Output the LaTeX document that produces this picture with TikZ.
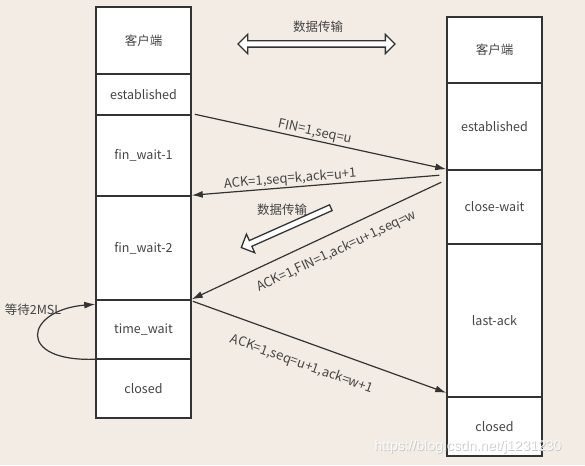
\documentclass[tikz,border=0pt]{standalone}
\usepackage{fontspec}
\setmainfont{Noto Sans CJK SC}
\newfontfamily\wmfont{Liberation Sans}
\usetikzlibrary{shapes.arrows,arrows.meta}
\definecolor{bg}{RGB}{242,236,228}
\definecolor{edge}{RGB}{51,51,51}
\definecolor{ink}{RGB}{68,68,68}
\tikzstyle{state} = [draw=edge,fill=white,line width=1.5pt,minimum width=95pt,inner sep=0pt,text=ink,font=\fontsize{12.5}{14}\selectfont]
\tikzstyle{msg} = [->,>={Latex[length=11pt,width=7pt]},line width=1.2pt,draw=edge]
\tikzstyle{msglabel} = [sloped,text=ink,font=\fontsize{13}{15}\selectfont,inner sep=1pt]
\tikzstyle{flow} = [draw=edge,fill=white,line width=1.3pt,inner sep=2.5pt]
\tikzstyle{watermark} = [font=\wmfont\fontsize{14}{16}\selectfont]

\begin{document}
\begin{tikzpicture}[x=1pt,y=-1pt]
		\fill[bg] (0,0) rectangle (585,465);
		\node[state,minimum height=67pt] (lc) at (143.5,40.5) {客户端};
		\node[state,minimum height=41pt] (le) at (143.5,94.5) {established};
		\node[state,minimum height=81pt] (lf1) at (143.5,155.5) {fin\_wait-1};
		\node[state,minimum height=104pt] (lf2) at (143.5,248) {fin\_wait-2};
		\node[state,minimum height=59pt] (lt) at (143.5,329.5) {time\_wait};
		\node[state,minimum height=59pt] (lcl) at (143.5,388.5) {closed};
		\node[state,minimum height=66pt] (rc) at (494.5,50) {客户端};
		\node[state,minimum height=87pt] (re) at (494.5,126.5) {established};
		\node[state,minimum height=74pt] (rcw) at (494.5,207) {close-wait};
		\node[state,minimum height=153pt] (rla) at (494.5,320.5) {last-ack};
		\node[state,minimum height=59pt] (rcl) at (494.5,426.5) {closed};
		\node[flow,double arrow,double arrow head extend=6.5pt,minimum height=157pt] (d1) at (316.5,44) {};
		\node[text=ink,font=\fontsize{12.5}{14}\selectfont] (t1) at (318,27) {数据传输};
		\node[flow,single arrow,single arrow head extend=7pt,minimum height=98pt,rotate=204] (d2) at (287.5,227) {};
		\node[text=ink,font=\fontsize{12.5}{14}\selectfont] (t2) at (282,210) {数据传输};
		\draw[msg] ([xshift=3pt]lf1.north east) -- node[msglabel,above,pos=0.47] (m1) {FIN=1,seq=u} (rcw.north west);
		\draw[msg] ([shift={(-7,6)}]rcw.north west) -- node[msglabel,above,pos=0.6] (m2) {ACK=1,seq=k,ack=u+1} (lf2.north east);
		\draw[msg] ([shift={(-5,13)}]rcw.north west) -- node[msglabel,below=10pt,pos=0.45] (m3) {ACK=1,FIN=1,ack=u+1,seq=w} (lt.north east);
		\draw[msg] ([shift={(1,2)}]lt.north east) -- node[msglabel,below=14pt,pos=0.46] (m4) {ACK=1,seq=u+1,ack=w+1} ([yshift=5pt]rla.south west);
		\draw[msg] ([yshift=-1pt]lcl.north west) .. controls (15,362) and (25,310) .. ([yshift=-5pt]lt.north west);
		\node[text=ink,font=\fontsize{12.5}{14}\selectfont] (w) at (33,310) {等待2MSL};
		\node[watermark,text=black!22] (wm0) at (468.8,447.6) {https://blog.csdn.net/j1231230};
		\node[watermark,text=white,opacity=0.9] (wm) at (468,447) {https://blog.csdn.net/j1231230};
\end{tikzpicture}
\end{document}
